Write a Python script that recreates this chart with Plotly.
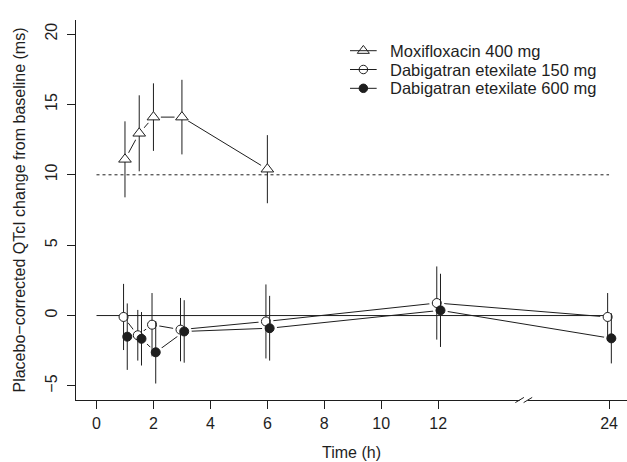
import plotly.graph_objects as go

# ---- data ----
moxi_time = [1, 1.5, 2, 3, 6]
moxi_mean = [11.1, 12.95, 14.1, 14.1, 10.4]
moxi_err = [2.7, 2.7, 2.4, 2.65, 2.42]

dab_time = [1, 1.5, 2, 3, 6, 12, 24]
dab150_mean = [-0.1, -1.4, -0.65, -1.0, -0.42, 0.89, -0.1]
dab150_err = [2.35, 1.8, 2.25, 2.25, 2.63, 2.6, 1.7]
dab600_mean = [-1.5, -1.65, -2.61, -1.13, -0.9, 0.37, -1.62]
dab600_err = [2.36, 1.9, 2.22, 2.22, 2.3, 2.6, 1.78]

x_ticks = [0, 2, 4, 6, 8, 10, 12, 24]
y_ticks = [-5, 0, 5, 10, 15, 20]
threshold = 10
baseline = 0

names = ["Moxifloxacin 400 mg", "Dabigatran etexilate 150 mg", "Dabigatran etexilate 600 mg"]

# ---- broken time axis: hours after 12 compressed by half ----
BREAK_AT = 12


def tx(t):
    return t if t <= BREAK_AT else BREAK_AT + (t - BREAK_AT) / 2.0


def shift(ts, d):
    return [tx(t) + d for t in ts]


INK = "#1e1e1e"
FONT = "Liberation Sans, Arial, Helvetica, sans-serif"

series = [
    dict(x=shift(moxi_time, 0.0), y=moxi_mean, e=moxi_err, sym="triangle-up", fill="white", size=11, name=names[0], lsym="triangle-up-open"),
    dict(x=shift(dab_time, -0.05), y=dab150_mean, e=dab150_err, sym="circle", fill="white", size=9, name=names[1], lsym="circle-open"),
    dict(x=shift(dab_time, 0.08), y=dab600_mean, e=dab600_err, sym="circle", fill=INK, size=9, name=names[2], lsym="circle"),
]

fig = go.Figure()

# connecting lines
for s in series:
    fig.add_trace(go.Scatter(x=s["x"], y=s["y"], mode="lines", line=dict(color=INK, width=1),
                             showlegend=False, hoverinfo="skip"))
# white masks to make gaps (like R type="b")
for s in series:
    fig.add_trace(go.Scatter(x=s["x"], y=s["y"], mode="markers",
                             marker=dict(symbol="circle", size=15, color="white", line=dict(width=0)),
                             showlegend=False, hoverinfo="skip"))

# reference lines
xr = [tx(x_ticks[0]), tx(x_ticks[-1])]
fig.add_trace(go.Scatter(x=xr, y=[baseline, baseline], mode="lines", line=dict(color=INK, width=1),
                         showlegend=False, hoverinfo="skip"))
fig.add_trace(go.Scatter(x=xr, y=[threshold, threshold], mode="lines",
                         line=dict(color=INK, width=1, dash="3px,3px"), showlegend=False, hoverinfo="skip"))

# markers with error bars
for s in series:
    fig.add_trace(go.Scatter(
        x=s["x"], y=s["y"], mode="markers",
        marker=dict(symbol=s["sym"], size=s["size"], color=s["fill"], line=dict(color=INK, width=1)),
        error_y=dict(type="data", array=s["e"], visible=True, width=0, thickness=1, color=INK),
        showlegend=False, name=s["name"]))

# ---- hand-drawn legend (on an invisible overlay axis, 0..1) ----
LEG_X0, LEG_X1, LEG_TX = 0.4973, 0.5457, 0.5655
LEG_Y0, LEG_DY = 0.9192, 0.0495
for i, s in enumerate(series):
    yy = LEG_Y0 - i * LEG_DY
    fig.add_trace(go.Scatter(x=[LEG_X0, LEG_X1], y=[yy, yy], mode="lines", line=dict(color=INK, width=1),
                             xaxis="x2", yaxis="y2", showlegend=False, hoverinfo="skip", cliponaxis=False))
    fig.add_trace(go.Scatter(x=[(LEG_X0 + LEG_X1) / 2], y=[yy], mode="markers",
                             marker=dict(symbol=s["lsym"], size=s["size"] - 0.5, color=INK,
                                         line=dict(color=INK, width=1)),
                             xaxis="x2", yaxis="y2", showlegend=False, hoverinfo="skip", cliponaxis=False))
    fig.add_annotation(x=LEG_TX, y=yy, xref="paper", yref="paper", text=s["name"], showarrow=False,
                       xanchor="left", yanchor="middle", font=dict(size=16.5, color=INK, family=FONT))

# axis break marks
bx = tx(18)
dy = 0.0068
fig.add_shape(type="line", xref="x", yref="paper", x0=bx - 0.14, x1=bx + 0.14, y0=0, y1=0,
              line=dict(color="white", width=3), layer="above")
for c in (bx - 0.14, bx + 0.15):
    fig.add_shape(type="line", xref="x", yref="paper", x0=c - 0.15, x1=c + 0.15,
                  y0=-dy, y1=dy, line=dict(color=INK, width=1), layer="above")

fig.update_layout(
    width=627, height=462,
    margin=dict(l=76, r=0, t=20, b=62),
    paper_bgcolor="white", plot_bgcolor="white",
    font=dict(family=FONT, size=16, color=INK),
    showlegend=False,
    xaxis=dict(range=[-0.72, 18.63], tickvals=[tx(t) for t in x_ticks], ticktext=[str(t) for t in x_ticks],
               showline=True, linecolor=INK, linewidth=1, ticks="outside", ticklen=8, tickcolor=INK,
               showgrid=False, zeroline=False, ticklabelstandoff=1,
               title=dict(text="Time (h)", standoff=15, font=dict(size=16)), automargin=False),
    yaxis=dict(range=[-6, 21], tickvals=y_ticks, ticktext=[str(v).replace("-", "\u2212") for v in y_ticks],
               tickangle=-90, showline=True, linecolor=INK, linewidth=1, ticks="outside", ticklen=8,
               tickcolor=INK, showgrid=False, zeroline=False, ticklabelstandoff=4,
               title=dict(text="Placebo\u2212corrected QTcI change from baseline (ms)", standoff=12,
                          font=dict(size=16)),
               automargin=False),
    xaxis2=dict(overlaying="x", range=[0, 1], visible=False, fixedrange=True),
    yaxis2=dict(overlaying="y", range=[0, 1], visible=False, fixedrange=True),
)

fig.write_html(
    "out.html",
    config={"displayModeBar": False, "staticPlot": True},
    post_script="document.documentElement.style.margin='0';document.body.style.margin='0';"
                "document.documentElement.style.overflow='hidden';document.body.style.overflow='hidden';",
)
